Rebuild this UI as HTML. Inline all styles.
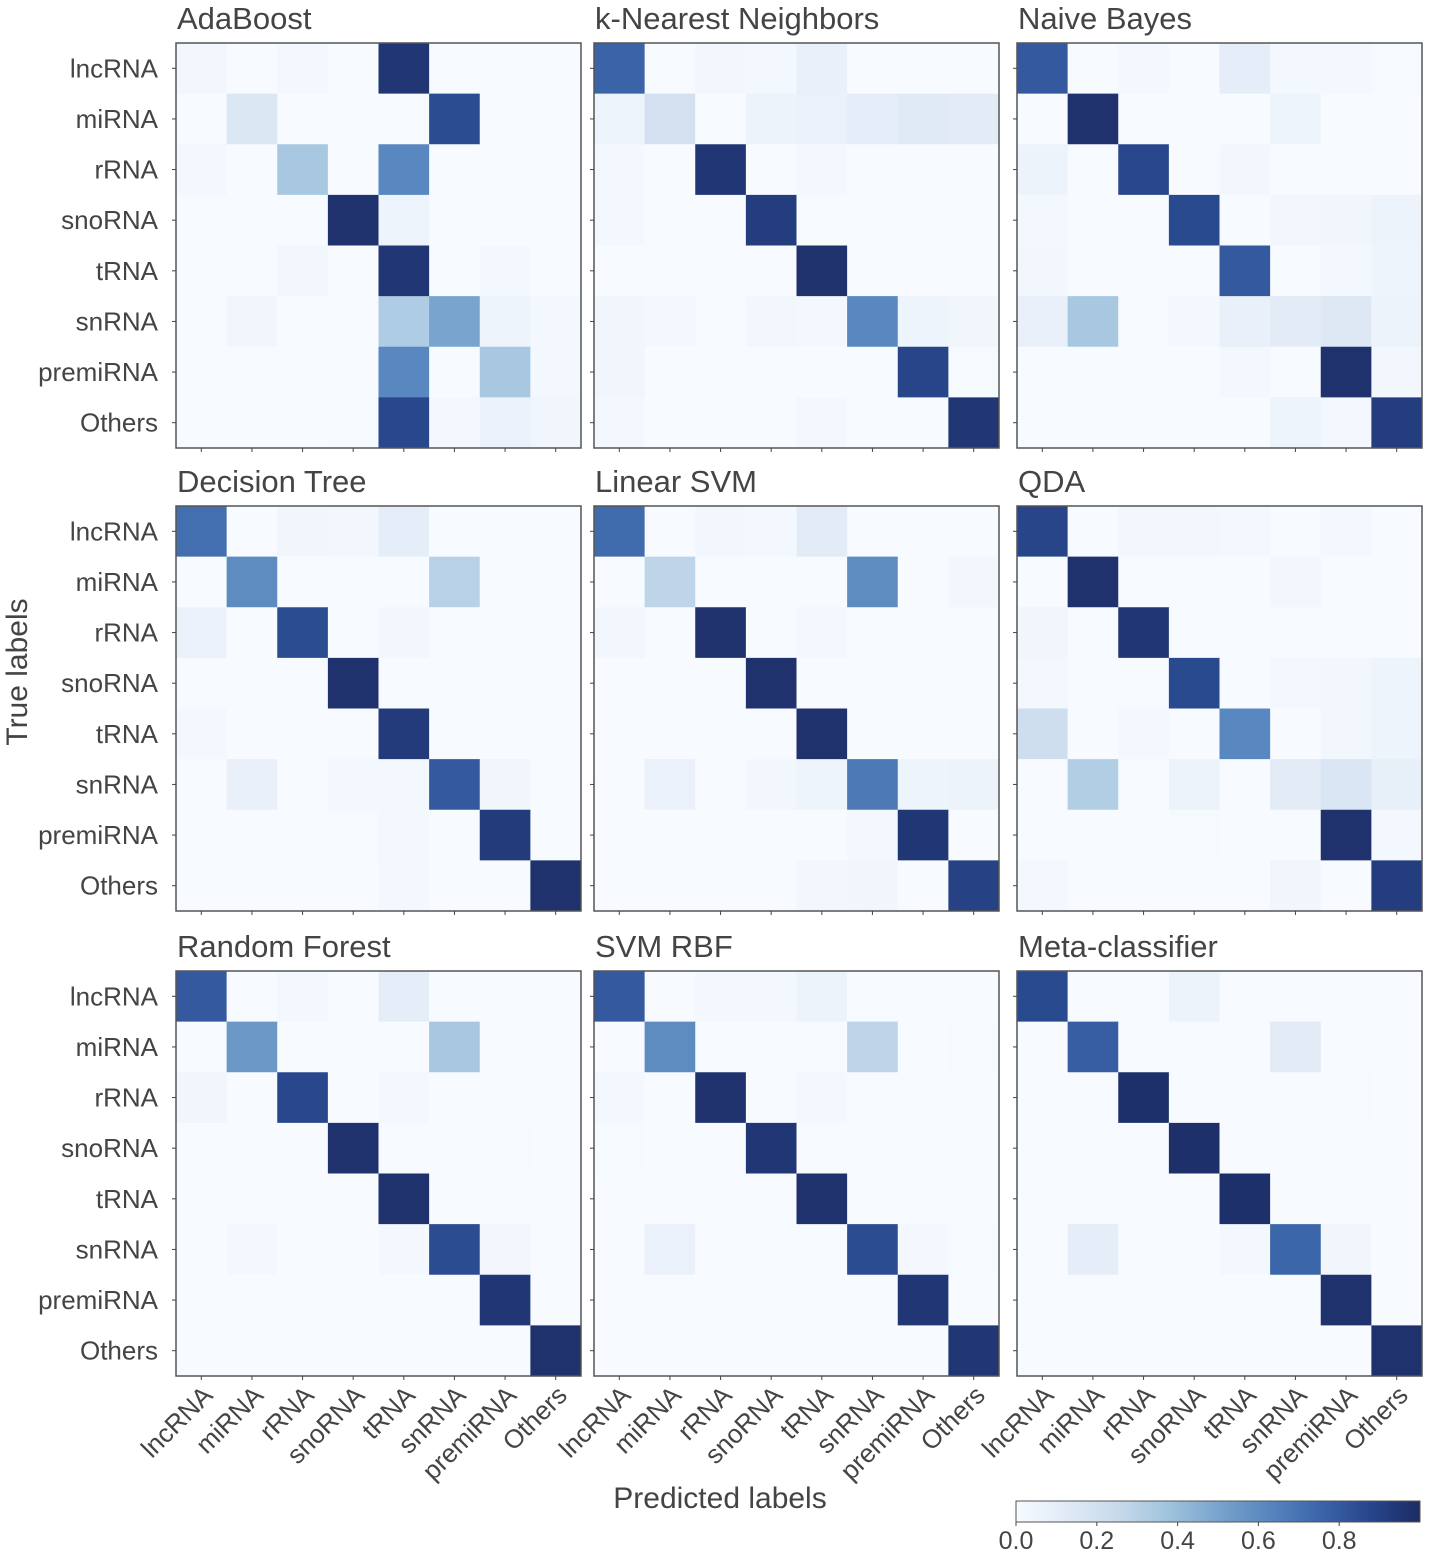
<!DOCTYPE html>
<html><head><meta charset="utf-8">
<style>
html,body{margin:0;padding:0;background:#fff;}
svg{display:block;font-family:"Liberation Sans",sans-serif;}
</style></head>
<body>
<svg id="chart" width="1433" height="1557" viewBox="0 0 1433 1557" xmlns="http://www.w3.org/2000/svg">
<defs>
<linearGradient id="cbgrad" x1="0" x2="1" y1="0" y2="0">
<stop offset="0" stop-color="rgb(247,251,255)"/><stop offset="0.125" stop-color="rgb(225,234,246)"/>
<stop offset="0.25" stop-color="rgb(200,218,236)"/><stop offset="0.375" stop-color="rgb(160,196,222)"/>
<stop offset="0.5" stop-color="rgb(120,164,205)"/><stop offset="0.625" stop-color="rgb(88,134,190)"/>
<stop offset="0.75" stop-color="rgb(60,102,170)"/><stop offset="0.875" stop-color="rgb(40,70,140)"/>
<stop offset="1" stop-color="rgb(28,44,100)"/>
</linearGradient>
</defs>
<text transform="translate(27,672) rotate(-90)" text-anchor="middle" font-size="30" fill="#444">True labels</text>
<text x="720" y="1508" text-anchor="middle" font-size="30" fill="#444">Predicted labels</text>
</svg>
<script>
const labels = ["lncRNA","miRNA","rRNA","snoRNA","tRNA","snRNA","premiRNA","Others"];
const titles = ["AdaBoost","k-Nearest Neighbors","Naive Bayes","Decision Tree","Linear SVM","QDA","Random Forest","SVM RBF","Meta-classifier"];
const cbTicks = [0.0,0.2,0.4,0.6,0.8];
const adaboost = [
[0.03,0,0.02,0,0.95,0,0,0],[0,0.15,0,0,0,0.85,0,0],[0.02,0,0.35,0,0.62,0,0,0],[0,0,0,0.97,0.05,0,0,0],
[0,0,0.03,0,0.95,0,0.02,0],[0,0.04,0,0,0.33,0.5,0.05,0.02],[0,0,0,0,0.62,0,0.35,0.02],[0,0,0,0.01,0.87,0.02,0.07,0.04]];
const knn = [
[0.76,0,0.03,0.02,0.08,0,0,0],[0.05,0.2,0,0.06,0.07,0.1,0.13,0.12],[0.02,0,0.95,0,0.02,0,0,0],[0.02,0,0,0.92,0,0,0,0],
[0,0,0,0,0.97,0,0,0],[0.04,0.02,0,0.03,0.02,0.62,0.05,0.04],[0.04,0,0,0,0,0,0.88,0.01],[0.02,0,0,0,0.02,0,0,0.95]];
const naiveBayes = [
[0.8,0,0.02,0,0.1,0.02,0.02,0.01],[0,0.97,0,0,0,0.05,0,0],[0.06,0,0.87,0,0.03,0,0,0],[0.02,0,0,0.86,0,0.03,0.04,0.06],
[0.03,0,0,0,0.8,0,0.02,0.05],[0.08,0.35,0,0.02,0.08,0.12,0.14,0.06],[0,0,0,0,0.02,0,0.97,0.03],[0,0,0,0,0,0.05,0.02,0.92]];
const decisionTree = [
[0.72,0,0.04,0.03,0.1,0,0,0],[0,0.6,0,0,0,0.3,0,0],[0.07,0,0.85,0,0.03,0,0,0],[0,0,0,0.97,0,0,0,0],
[0.02,0,0,0,0.93,0,0,0],[0,0.08,0,0.02,0.02,0.8,0.04,0],[0,0,0,0.01,0.02,0,0.93,0],[0,0,0,0,0.02,0,0,0.97]];
const linearSvm = [
[0.73,0,0.03,0.02,0.12,0,0,0],[0,0.28,0,0,0,0.6,0,0.03],[0.03,0,0.97,0,0.02,0,0,0],[0,0,0,0.97,0,0,0,0],
[0,0,0,0,0.97,0,0,0],[0,0.07,0,0.03,0.05,0.68,0.05,0.06],[0,0,0,0,0,0.02,0.95,0],[0,0,0,0,0.03,0.04,0,0.9]];
const qda = [
[0.88,0,0.03,0.03,0.02,0,0.02,0],[0,0.97,0,0,0,0.03,0,0],[0.04,0,0.95,0,0,0,0,0],[0.02,0,0,0.86,0,0.02,0.03,0.05],
[0.22,0,0.02,0,0.62,0,0.03,0.05],[0,0.32,0,0.06,0,0.12,0.16,0.09],[0,0,0,0.01,0,0,0.97,0.02],[0.02,0,0,0,0,0.04,0,0.92]];
const randomForest = [
[0.8,0,0.02,0,0.1,0,0,0],[0,0.55,0,0,0,0.35,0,0],[0.04,0,0.87,0,0.02,0,0,0],[0,0,0,0.97,0,0,0.01,0],
[0,0,0,0,0.97,0,0,0],[0,0.02,0,0,0.02,0.85,0.03,0],[0,0,0,0,0,0,0.95,0],[0,0,0,0,0,0,0,0.97]];
const svmRbf = [
[0.8,0,0.02,0.02,0.06,0,0,0],[0,0.6,0,0,0,0.28,0,0.01],[0.02,0,0.97,0,0.02,0,0,0],[0.01,0,0,0.95,0,0,0,0],
[0,0,0,0,0.97,0,0,0],[0,0.07,0,0,0,0.85,0.02,0.01],[0,0,0,0,0,0,0.95,0],[0,0,0,0,0,0,0,0.95]];
const metaClassifier = [
[0.86,0,0,0.06,0,0,0,0],[0,0.78,0,0,0,0.12,0,0],[0,0,0.98,0,0,0,0.01,0],[0,0,0,0.98,0,0,0,0],
[0,0,0,0,0.98,0,0,0],[0,0.1,0,0,0.02,0.75,0.04,0],[0,0,0,0,0,0,0.97,0],[0,0,0,0,0,0,0,0.97]];
const matrices = [adaboost,knn,naiveBayes,decisionTree,linearSvm,qda,randomForest,svmRbf,metaClassifier];

const NS="http://www.w3.org/2000/svg";
const svg=document.getElementById('chart');
function mk(tag,attrs){const e=document.createElementNS(NS,tag);for(const k in attrs)e.setAttribute(k,attrs[k]);return e;}
const stops=[[247,251,255],[225,234,246],[200,218,236],[160,196,222],[120,164,205],[88,134,190],[60,102,170],[40,70,140],[28,44,100]];
function color(v){v=Math.max(0,Math.min(1,v));const p=v*8;const i=Math.min(7,Math.floor(p));const t=p-i;
 const a=stops[i],b=stops[i+1];return `rgb(${a.map((c,j)=>Math.round(c+(b[j]-c)*t)).join(',')})`;}
const colX=[176,594,1017], rowY=[43,506,971], W=405, H=405;
matrices.forEach((m,pi)=>{
 const r=Math.floor(pi/3), c=pi%3, x0=colX[c], y0=rowY[r];
 const g=mk('g',{});
 
 
 svg.appendChild(g);
 const cw=W/8, ch=H/8;
 const xs=i=>x0+i*cw, ys=i=>y0+i*ch;
 m.forEach((row,ri)=>row.forEach((v,ci)=>{
  const rc=mk('rect',{x:xs(ci),y:ys(ri),width:cw+0.5,height:ch+0.5,fill:color(v)});
  
  
  g.appendChild(rc);
 }));
 const box=mk('rect',{x:x0,y:y0,width:W,height:H,fill:'none',stroke:'#555','stroke-width':1.5});
 
 
 g.appendChild(box);
 const t=mk('text',{x:x0+1,y:y0-14,'font-size':31,fill:'#444'});t.textContent=titles[pi];
 
 
 g.appendChild(t);
 for(let i=0;i<8;i++){
  g.appendChild(mk('line',{x1:x0-4,x2:x0,y1:ys(i)+ch/2,y2:ys(i)+ch/2,stroke:'#444','stroke-width':1}));
  g.appendChild(mk('line',{x1:xs(i)+cw/2,x2:xs(i)+cw/2,y1:y0+H,y2:y0+H+4,stroke:'#444','stroke-width':1}));
  if(c===0){const lt=mk('text',{x:x0-18,y:ys(i)+ch/2+9,'text-anchor':'end','font-size':26,fill:'#444'});lt.textContent=labels[i];
   
   
   g.appendChild(lt);}
  if(r===2){const tx=xs(i)+cw/2, ty=y0+H+8;
   const lt=mk('text',{x:tx,y:ty,'text-anchor':'end','font-size':26,fill:'#444',transform:`rotate(-45 ${tx} ${ty})`,dy:'0.7em'});lt.textContent=labels[i];
   
   
   g.appendChild(lt);}
 }
});
const cbX=1016,cbY=1501,cbW=404,cbH=21;
const cbs=v=>cbX+v*cbW;
const cb=mk('rect',{x:cbX,y:cbY,width:cbW,height:cbH,fill:'url(#cbgrad)',stroke:'#555','stroke-width':1});


svg.appendChild(cb);
cbTicks.forEach(v=>{
 svg.appendChild(mk('line',{x1:cbs(v),x2:cbs(v),y1:cbY+cbH,y2:cbY+cbH+4,stroke:'#444'}));
 const t=mk('text',{x:cbs(v),y:1549,'text-anchor':'middle','font-size':25,fill:'#444'});t.textContent=v.toFixed(1);
 
 
 svg.appendChild(t);
});
</script>
</body></html>
